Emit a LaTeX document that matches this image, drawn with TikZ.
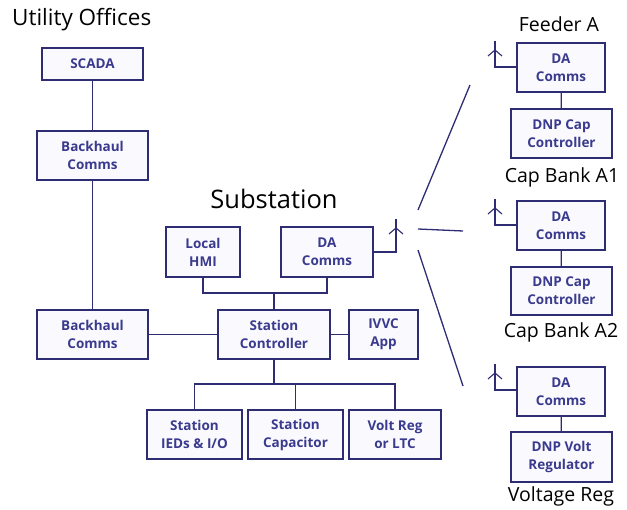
\documentclass[tikz,border=0pt]{standalone}
\usepackage{fontspec}
\setmainfont{Open Sans}
\usetikzlibrary{calc}
\definecolor{navy}{HTML}{2E2C72}
\definecolor{boxtext}{HTML}{3A3A8E}
\definecolor{boxfill}{HTML}{FAFAFE}
\tikzset{
  unit/.style={draw=navy, fill=boxfill, line width=1.4pt, text=boxtext,
    align=center, inner sep=0pt, font=\fontsize{13.5}{18}\selectfont\bfseries},
  link/.style={draw=navy, line width=1.3pt},
  title/.style={text=black, inner sep=0pt},
  label/.style={font=\fontsize{19.5}{22}\selectfont, text=black, inner sep=0pt},
  mast/.style={draw=navy, line width=1.1pt},
}
% antenna drawn on top of a named coordinate (the mast tip)
\newcommand{\antennaglyph}[1]{%
  \draw[mast] (#1) ++(-7,15) -- ++(7,-6) -- ++(7,6);}
\begin{document}
\begin{tikzpicture}[x=1pt,y=-1pt]
\useasboundingbox (0,0) rectangle (627,510);

% headings
\node[title, anchor=west, font=\fontsize{22.5}{26}\selectfont] (hUtil) at (12,20) {Utility Offices};
\node[title, font=\fontsize{25.5}{29}\selectfont] (hSub) at (274,199) {Substation};
\node[label] (hFeed) at (559,24) {Feeder A};
\node[label] (hCap1) at (562,177) {Cap Bank A1};
\node[label] (hCap2) at (561,332) {Cap Bank A2};
\node[label] (hVreg) at (561,496) {Voltage Reg};

% utility offices
\node[unit, minimum width=101pt, minimum height=32pt] (scada) at (92.5,64) {SCADA};
\node[unit, minimum width=111pt, minimum height=49pt] (bh1) at (92.5,155.5) {Backhaul\\Comms};
\node[unit, minimum width=111pt, minimum height=49pt] (bh2) at (92.5,334.5) {Backhaul\\Comms};

% substation
\node[unit, minimum width=112pt, minimum height=49pt] (ctrl) at (274,334.5) {Station\\Controller};
\node[unit, minimum width=69pt, minimum height=49pt] (ivvc) at (383.5,334.5) {IVVC\\App};
\node[unit, minimum width=74pt, minimum height=50pt] (hmi) at (203,252) {Local\\HMI};
\node[unit, minimum width=92pt, minimum height=50pt] (dac) at (327,252) {DA\\Comms};
\node[unit, minimum width=95pt, minimum height=49pt] (ieds) at (194.5,434.5) {Station\\IEDs \& I/O};
\node[unit, minimum width=95pt, minimum height=49pt] (scap) at (295.5,434.5) {Station\\Capacitor};
\node[unit, minimum width=92pt, minimum height=49pt] (vreg) at (395,434.5) {Volt Reg\\or LTC};

% feeder devices
\node[unit, minimum width=88pt, minimum height=49pt] (da1) at (561,67.5) {DA\\Comms};
\node[unit, minimum width=101pt, minimum height=49pt] (dnp1) at (561.5,133.5) {DNP Cap\\Controller};
\node[unit, minimum width=88pt, minimum height=49pt] (da2) at (561,225.5) {DA\\Comms};
\node[unit, minimum width=101pt, minimum height=48pt] (dnp2) at (561.5,291) {DNP Cap\\Controller};
\node[unit, minimum width=88pt, minimum height=49pt] (da3) at (561,391.5) {DA\\Comms};
\node[unit, minimum width=101pt, minimum height=50pt] (dnp3) at (561.5,457) {DNP Volt\\Regulator};

% backhaul chain
\draw[link] (scada) -- (bh1);
\draw[link] (bh1) -- (bh2);
\draw[link] (bh2) -- (ctrl);
\draw[link] (ctrl) -- (ivvc);

% upper bus: HMI and DA comms to the controller
\coordinate (upbus) at (274,293);
\draw[link] (hmi.south) |- (upbus) -| (dac.south);
\draw[link] (ctrl.north) -- (upbus);

% lower bus: controller to field equipment
\coordinate (lowbus) at (274,384);
\draw[link] (ctrl.south) -- (lowbus);
\draw[link] (ieds.north) |- (lowbus);
\draw[link] (lowbus) -| (vreg.north);
\draw[link] (scap.north) -- (scap.north |- lowbus);

% radio masts
\coordinate (m0) at (396,219);
\coordinate (m1) at (495,41);
\coordinate (m2) at (495,199);
\coordinate (m3) at (495,364);
\draw[mast] (dac.east |- 0,252) -| (m0);
\draw[mast] (da1.west |- 0,67) -| (m1);
\draw[mast] (da2.west |- 0,225) -| (m2);
\draw[mast] (da3.west |- 0,390) -| (m3);
\antennaglyph{m0}
\antennaglyph{m1}
\antennaglyph{m2}
\antennaglyph{m3}

% wireless fan-out
\coordinate (r1a) at (418,210); \coordinate (r1b) at (470,85);
\coordinate (r2a) at (418,229); \coordinate (r2b) at (463,231);
\coordinate (r3a) at (418,250); \coordinate (r3b) at (463,386);
\draw[link] (r1a) -- (r1b);
\draw[link] (r2a) -- (r2b);
\draw[link] (r3a) -- (r3b);

% feeder links
\draw[link] (da1) -- (dnp1);
\draw[link] (da2) -- (dnp2);
\draw[link] (da3) -- (dnp3);
\end{tikzpicture}
\end{document}
